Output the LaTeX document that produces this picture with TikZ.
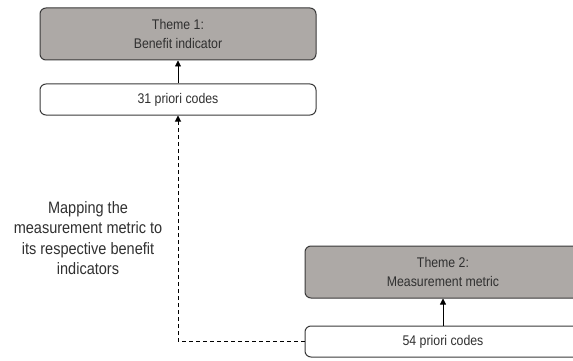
\documentclass[tikz,border=0pt]{standalone}
\usepackage{fontspec}
\setmainfont{Liberation Sans}[FakeStretch=0.88]
\usetikzlibrary{arrows.meta}
\definecolor{themefill}{HTML}{ADA9A6}
\definecolor{edgecol}{HTML}{3A3A3A}
\definecolor{txtcol}{HTML}{303030}
\tikzset{
  box/.style={draw=edgecol, line width=1pt, rounded corners=6pt, minimum width=276pt,
    inner sep=0pt, align=center, text=txtcol, font=\fontsize{14}{19}\selectfont},
  themebox/.style={box, fill=themefill, minimum height=52pt},
  codebox/.style={box, fill=white, minimum height=31pt},
  arr/.style={draw=black, line width=0.8pt, -{Triangle[length=6pt,width=6pt]}},
  darr/.style={arr, dashed, dash pattern=on 4pt off 3pt, line width=1pt},
  lbl/.style={align=center, text=txtcol, font=\fontsize{16.5}{20.5}\selectfont}
}
\begin{document}
\begin{tikzpicture}[x=1pt,y=-1pt]
\useasboundingbox (0,0) rectangle (573,361);
\clip (0,0) rectangle (573,361);
\node[themebox] (t1) at (178,34) {Theme 1:\\Benefit indicator};
\node[codebox] (c1) at (178,99.5) {31 priori codes};
\node[themebox] (t2) at (443,272) {Theme 2:\\Measurement metric};
\node[codebox] (c2) at (443,341.5) {54 priori codes};
\node[lbl] (m) at (88,238) {Mapping the\\measurement metric to\\its respective benefit\\indicators};
\draw[arr] (c1.north) -- (t1.south);
\draw[arr] (c2.north) -- (t2.south);
\draw[darr] (c2.west) -| (c1.south);
\end{tikzpicture}
\end{document}
